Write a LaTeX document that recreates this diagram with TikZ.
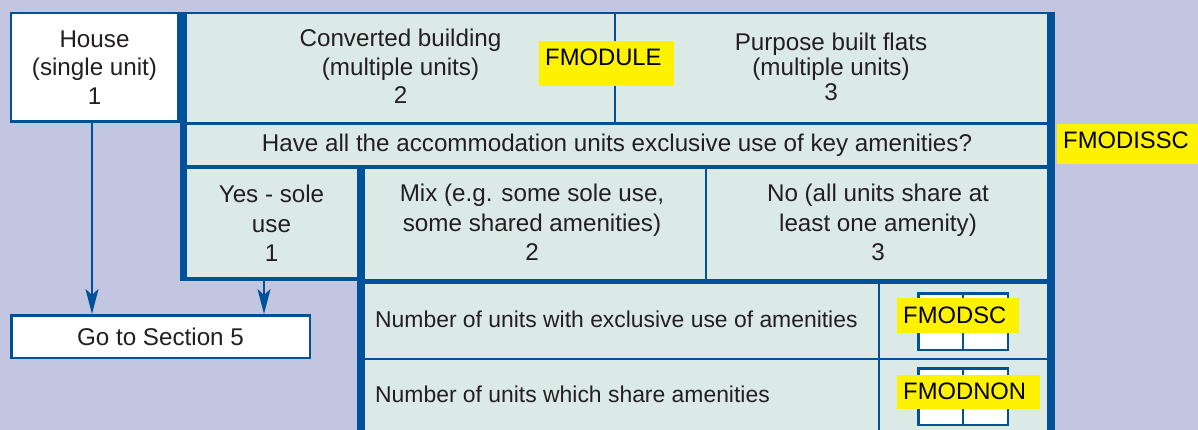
\documentclass[tikz,border=0pt]{standalone}
\usepackage{fontspec}
\setmainfont{Liberation Sans}
\usetikzlibrary{arrows.meta}
\definecolor{bgc}{HTML}{C3C6E1}
\definecolor{pan}{HTML}{DCEAE7}
\definecolor{bl}{HTML}{00509A}
\definecolor{tx}{HTML}{231F20}
\begin{document}
\begin{tikzpicture}[x=1pt,y=-1pt,
  cell/.style={text=tx, font=\fontsize{24.2}{28.5}\selectfont, align=center, inner sep=0pt},
  ltxt/.style={text=tx, font=\fontsize{22.9}{28.5}\selectfont, inner sep=0pt, anchor=base west},
  hl/.style={fill=yellow, text=black, font=\fontsize{23.8}{29}\selectfont, anchor=north west, inner xsep=6pt, inner ysep=0pt},
  ln/.style={draw=bl, line width=2.5pt},
  arr/.style={draw=bl, line width=2.5pt, -{Stealth[length=25pt,width=13pt,inset=6pt]}},
  wbox/.style={draw=bl, line width=2.5pt, fill=white, inner sep=0pt, text=tx, font=\fontsize{24.2}{28.5}\selectfont, align=center}]
\fill[bgc] (0,0) rectangle (1198,430);
\useasboundingbox (0,0) rectangle (1198,430);
% panel fill
\fill[pan] (180,12) -- (1055,12) -- (1055,430) -- (357,430) -- (357,281) -- (180,281) -- cycle;
% left boxes
\node[wbox, minimum width=167.5pt, minimum height=108.5pt] (house) at (94.5,67.5) {House\\(single unit)\\1};
\node[wbox, minimum width=298.5pt, minimum height=42.5pt] (go) at (160.5,336.5) {Go to Section 5};
% cells
\node[cell, minimum width=429pt, minimum height=108pt] (conv) at (400.5,66.5) {Converted building\\(multiple units)\\2};
\node[cell, minimum width=432pt, minimum height=108pt, font=\fontsize{24.2}{25}\selectfont] (flats) at (831,67) {Purpose built flats\\(multiple units)\\3};
\node[cell] (quest) at (617,145.5) {Have all the accommodation units exclusive use of key amenities?};
\node[cell, minimum width=171pt, minimum height=109pt, font=\fontsize{24.2}{29.3}\selectfont] (yes) at (271.5,223.5) {Yes - sole\\use\\1};
\node[cell, font=\fontsize{24.2}{29.5}\selectfont] (mix) at (532,222.5) {Mix (e.g. some sole use,\\some shared amenities)\\2};
\node[cell, font=\fontsize{24.2}{29.5}\selectfont] (no) at (878,222.5) {No (all units share at\\least one amenity)\\3};
\node[ltxt] (nexcl) at (375,327) {Number of units with exclusive use of amenities};
\node[ltxt] (nshare) at (375,402) {Number of units which share amenities};
% panel lines
\draw[ln] (180,13.25) -- (1055,13.25);
\draw[bl, line width=6.5pt] (183.25,12) -- (183.25,281);
\draw[bl, line width=8pt] (1051,12) -- (1051,430);
\draw[ln] (615,12) -- (615,124);
\draw[ln] (183,123.5) -- (1051,123.5);
\draw[bl, line width=4.5pt] (183,167) -- (1051,167);
\draw[bl, line width=7.5pt] (361,167) -- (361,430);
\draw[ln] (706,167) -- (706,281);
\draw[bl, line width=4pt] (180,279) -- (361,279);
\draw[bl, line width=5pt] (361,281) -- (1051,281);
\draw[ln] (361,359) -- (1051,359);
\draw[ln] (879,281) -- (879,430);
% answer boxes
\node[wbox, minimum width=89.5pt, minimum height=56.5pt] (bxa) at (963,321.5) {};
\draw[ln] (bxa.north) -- (bxa.south);
\node[wbox, minimum width=89.5pt, minimum height=56.5pt] (bxb) at (963,396.5) {};
\draw[ln] (bxb.north) -- (bxb.south);
% arrows
\draw[arr] ([xshift=-2.5pt]house.south) -- ([xshift=-2.5pt]house.south |- go.north);
\draw[arr] ([xshift=-7.5pt]yes.south) -- ([xshift=-7.5pt]yes.south |- go.north);
% highlights
\node[hl, text height=24pt, text depth=21pt] (hmodule) at (539,41) {\makebox[123pt][l]{FMODULE}};
\node[hl, text height=24pt, text depth=16pt] (hmodissc) at (1057,124) {\makebox[129pt][l]{FMODISSC}};
\node[hl, text height=25pt, text depth=10pt] (hmodsc) at (897,298) {\makebox[110pt][l]{FMODSC}};
\node[hl, text height=24pt, text depth=10pt] (hmodnon) at (897,375) {\makebox[131pt][l]{FMODNON}};
\end{tikzpicture}
\end{document}
